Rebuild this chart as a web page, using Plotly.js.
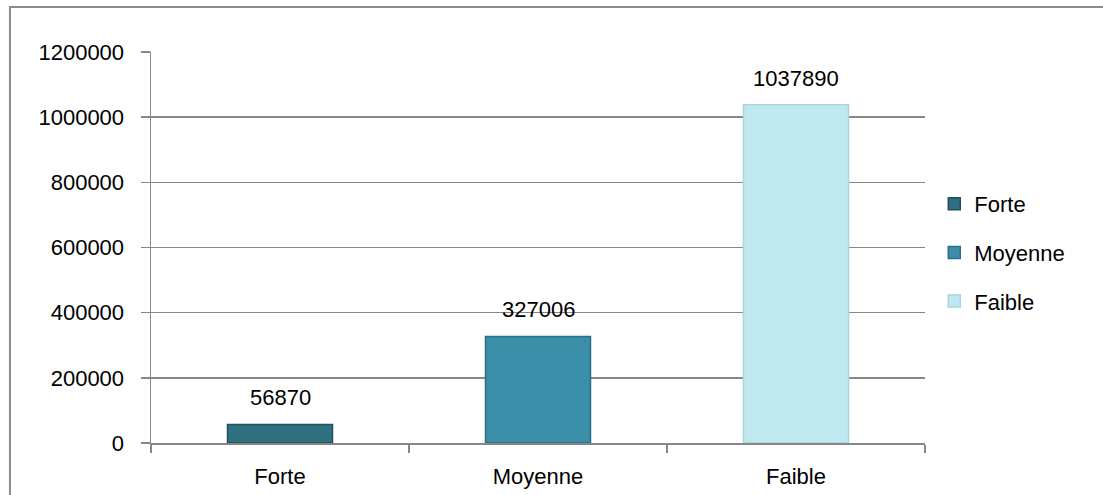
<!DOCTYPE html>
<html><head><meta charset="utf-8">
<script src="https://cdn.plot.ly/plotly-3.0.1.min.js"></script>
<style>html,body{margin:0;padding:0;background:#fff;}#chart{width:1103px;height:495px;}</style>
</head><body><div id="chart"></div>
<script>
const categories = ["Forte", "Moyenne", "Faible"];
const values = [56870, 327006, 1037890];
const colors = ["#2f6f80", "#3a8ea8", "#bfe8ef"];
const lineColors = ["#1f5160", "#2b7088", "#a8d6de"];
const yTicks = [0, 200000, 400000, 600000, 800000, 1000000, 1200000];

const font = {family: "Liberation Sans, Arial, sans-serif", size: 22, color: "#000"};
const traces = categories.map((c, i) => ({
  type: "bar", x: [c], y: [values[i]], name: c, legendgroup: c,
  marker: {color: colors[i], line: {color: lineColors[i], width: 1.5}},
  hoverinfo: "skip"
}));
const annotations = categories.map((c, i) => ({
  x: c, y: values[i], xref: "x", yref: "y", text: String(values[i]),
  showarrow: false, yanchor: "bottom", yshift: 12, font: font
}));
const layout = {
  width: 1103, height: 495,
  margin: {l: 151, r: 178, t: 52, b: 52},
  paper_bgcolor: "#fff", plot_bgcolor: "#fff",
  font: font,
  barmode: "overlay", bargap: 0.593,
  showlegend: true,
  legend: {x: 1.012, xanchor: "left", y: 0.665, yanchor: "top", tracegroupgap: 17, font: font, bgcolor: "rgba(0,0,0,0)"},
  xaxis: {type: "category", categoryorder: "array", categoryarray: categories,
    showline: true, linecolor: "#868686", linewidth: 1.5, ticks: "outside", tickson: "boundaries",
    ticklen: 8, tickcolor: "#868686", tickwidth: 1.5, showgrid: false, zeroline: false,
    tickfont: font, ticklabelstandoff: 13},
  yaxis: {range: [0, 1200000], tickvals: yTicks, ticktext: yTicks.map(String),
    showline: true, linecolor: "#868686", linewidth: 1.5, ticks: "outside", ticklen: 9,
    tickcolor: "#868686", tickwidth: 1.5, showgrid: true, gridcolor: "#868686", gridwidth: 1.5,
    zeroline: false, tickfont: font, ticklabelstandoff: 12},
  annotations: annotations,
  shapes: [{type: "rect", xref: "paper", yref: "paper", x0: -0.1822, x1: 2, y0: -1, y1: 1.115,
    line: {color: "#8c8c8c", width: 2}, fillcolor: "rgba(0,0,0,0)"}]
};
Plotly.newPlot("chart", traces, layout, {displayModeBar: false, staticPlot: true});
</script></body></html>
